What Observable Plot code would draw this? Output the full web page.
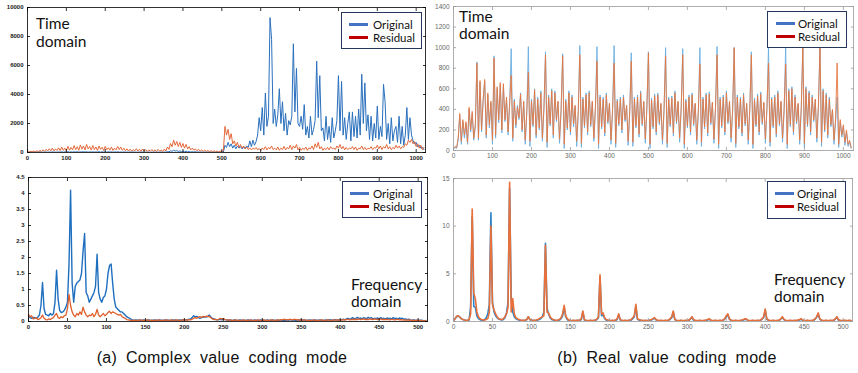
<!DOCTYPE html>
<html><head><meta charset="utf-8">
<script src="https://cdn.jsdelivr.net/npm/d3@7"></script>
<script src="https://cdn.jsdelivr.net/npm/@observablehq/plot@0.6"></script>
<style>
body{margin:0;background:#fff;}
#wrap{position:relative;width:858px;height:373px;overflow:hidden;background:#fff;}
.panel{position:absolute;}
.panel svg{overflow:visible;background:transparent;}
.ann{position:absolute;font-family:Lato,"Open Sans",sans-serif;font-size:15.5px;line-height:17px;color:#111;white-space:nowrap;}
.leg{position:absolute;border:1.2px solid #25385c;background:#fff;box-sizing:border-box;}
.leg .sw{position:absolute;height:3px;}
.leg .lt{position:absolute;font-family:Lato,"Open Sans",sans-serif;font-size:11.5px;line-height:12px;color:#111;white-space:nowrap;}
.cap{position:absolute;top:349px;font-family:"Liberation Sans",Arial,sans-serif;font-size:16px;line-height:18px;color:#111;letter-spacing:0.3px;word-spacing:4px;white-space:nowrap;transform:translateX(-50%);}
</style>
</head><body>
<div id="wrap"></div>
<script>
// ---------------- DATA ----------------
// (a) complex value coding, time domain: one value every 4 samples (0..1020)
const complexTimeOriginal = [
 20,10,30,15,25,10,30,20,40,15,
 30,20,40,15,35,20,45,25,30,20,
 40,25,50,20,45,30,55,25,40,30,
 50,30,60,25,45,35,55,30,50,25,
 45,30,50,25,40,30,55,25,45,30,
 40,25,50,30,45,20,40,30,50,25,
 35,20,40,25,30,20,35,25,40,20,
 30,15,35,20,30,15,25,20,30,15,
 25,20,30,15,25,20,30,15,35,20,
 60,40,120,80,150,100,130,70,110,60,
 100,50,90,40,70,30,60,30,50,25,
 40,20,35,20,30,15,30,15,25,15,
 20,10,20,10,15,20,30,500,350,700,
 400,600,300,500,250,450,300,400,250,350,
 300,450,350,800,400,850,500,750,1200,2400,
 1500,3100,1200,4100,1800,2500,9300,7800,2000,3000,
 1800,2600,4400,2000,3500,1500,2700,1200,2200,1900,
 2500,7500,2800,5800,2000,1800,2500,1600,3300,1200,
 1800,1000,2500,1200,1600,2200,6300,2400,5300,1500,
 1700,800,2500,900,1800,700,2400,1000,1500,2200,
 5300,1500,4900,1200,2400,900,2000,2800,800,2800,
 1100,2500,1000,3000,1200,5400,2000,4800,1500,2600,
 900,2500,800,2000,1000,3200,900,1800,1100,4700,
 3500,900,2000,600,2400,800,1500,1800,700,2500,
 600,1800,500,1200,3100,900,2400,1200,800,600,
 700,400,500,300,350,200
];
const complexTimeResidual = [
 60,40,80,50,90,60,110,70,140,80,
 180,90,220,100,260,120,300,110,250,140,
 320,130,380,150,300,120,420,160,350,180,
 480,200,400,150,520,230,450,180,560,250,
 420,170,480,200,380,150,450,220,360,140,
 420,190,330,160,380,140,300,180,420,200,
 380,150,300,120,250,100,230,90,200,110,
 260,100,220,80,240,90,200,70,180,90,
 210,80,180,70,220,90,160,80,240,100,
 380,220,620,400,850,500,760,420,700,350,
 620,300,560,250,400,180,300,150,250,120,
 220,100,180,80,160,70,150,60,130,50,
 120,50,100,40,90,60,130,1800,1200,1600,
 900,1300,600,800,450,700,350,550,300,450,
 250,380,200,320,180,300,220,350,180,280,
 150,320,200,400,180,350,250,450,200,300,
 180,380,150,300,200,420,180,350,250,500,
 200,450,300,550,180,350,150,300,200,380,
 150,320,250,450,200,600,350,700,250,400,
 150,300,200,350,180,400,250,300,200,450,
 300,550,250,420,180,350,200,300,250,400,
 200,380,150,300,250,450,200,350,180,300,
 250,400,200,350,300,500,250,450,200,400,
 300,550,250,400,200,350,250,500,300,450,
 250,400,350,600,500,850,700,900,600,750,
 400,600,300,500,200,350
];
// (a) complex value coding, frequency domain: one value every 2 bins (0..510)
const complexFreqOriginal = [
 0.15,0.12,0.1,0.13,0.12,0.1,0.14,0.2,0.5,1.22,
 0.4,0.22,0.2,0.18,0.25,0.2,0.24,0.6,1.6,0.7,
 0.35,0.28,0.3,0.35,0.45,0.6,1.8,4.1,1.2,0.6,
 1.1,1.2,1.25,1.3,1.5,2.2,2.75,0.9,0.8,0.6,
 0.7,0.8,0.9,1.1,2.1,0.9,0.7,0.6,0.75,0.8,
 1.0,1.5,1.75,1.8,1.2,0.7,0.45,0.4,0.35,0.3,
 0.3,0.25,0.2,0.15,0.12,0.1,0.06,0.05,0.04,0.05,
 0.04,0.05,0.03,0.04,0.05,0.03,0.04,0.05,0.04,0.03,
 0.04,0.05,0.04,0.03,0.05,0.04,0.03,0.04,0.05,0.04,
 0.04,0.03,0.05,0.04,0.05,0.03,0.04,0.05,0.04,0.05,
 0.05,0.06,0.05,0.07,0.08,0.12,0.18,0.14,0.16,0.12,
 0.1,0.12,0.13,0.15,0.14,0.16,0.2,0.14,0.1,0.08,
 0.06,0.05,0.06,0.07,0.05,0.08,0.06,0.05,0.04,0.05,
 0.04,0.03,0.05,0.04,0.03,0.04,0.05,0.03,0.04,0.03,
 0.04,0.05,0.03,0.04,0.03,0.05,0.04,0.03,0.04,0.05,
 0.03,0.04,0.03,0.05,0.04,0.03,0.04,0.05,0.03,0.04,
 0.04,0.03,0.05,0.04,0.03,0.04,0.05,0.04,0.06,0.04,
 0.05,0.04,0.03,0.05,0.04,0.06,0.04,0.05,0.03,0.04,
 0.04,0.05,0.03,0.04,0.05,0.03,0.04,0.05,0.04,0.03,
 0.04,0.05,0.04,0.06,0.05,0.04,0.05,0.06,0.04,0.05,
 0.05,0.06,0.07,0.05,0.08,0.1,0.07,0.09,0.12,0.08,
 0.1,0.13,0.09,0.11,0.08,0.12,0.1,0.09,0.13,0.1,
 0.12,0.08,0.1,0.09,0.11,0.08,0.12,0.09,0.1,0.08,
 0.11,0.09,0.1,0.08,0.12,0.09,0.1,0.08,0.11,0.09,
 0.1,0.07,0.08,0.06,0.07,0.05,0.04,0.05,0.04,0.03,
 0.04,0.03,0.04,0.03,0.02,0.03
];
const complexFreqResidual = [
 0.22,0.15,0.18,0.08,0.1,0.12,0.06,0.08,0.12,0.2,
 0.1,0.06,0.05,0.08,0.06,0.1,0.12,0.2,0.25,0.12,
 0.1,0.15,0.12,0.18,0.2,0.4,0.85,0.5,0.3,0.2,
 0.15,0.25,0.2,0.3,0.22,0.45,0.3,0.2,0.15,0.2,
 0.18,0.25,0.15,0.22,0.38,0.2,0.15,0.2,0.25,0.18,
 0.22,0.28,0.32,0.25,0.3,0.28,0.25,0.22,0.2,0.22,
 0.15,0.12,0.1,0.06,0.05,0.04,0.03,0.04,0.03,0.04,
 0.03,0.04,0.05,0.03,0.04,0.03,0.05,0.04,0.03,0.04,
 0.03,0.04,0.03,0.05,0.04,0.03,0.04,0.03,0.05,0.04,
 0.03,0.04,0.05,0.03,0.04,0.05,0.04,0.03,0.04,0.05,
 0.04,0.05,0.04,0.06,0.05,0.07,0.1,0.12,0.1,0.14,
 0.15,0.13,0.16,0.14,0.17,0.15,0.16,0.12,0.08,0.06,
 0.07,0.05,0.06,0.1,0.08,0.09,0.06,0.05,0.04,0.05,
 0.04,0.03,0.04,0.05,0.03,0.04,0.03,0.04,0.05,0.03,
 0.04,0.03,0.05,0.04,0.03,0.04,0.03,0.05,0.04,0.03,
 0.04,0.05,0.03,0.04,0.03,0.04,0.05,0.04,0.03,0.04,
 0.05,0.04,0.06,0.05,0.07,0.06,0.05,0.06,0.07,0.05,
 0.06,0.07,0.05,0.06,0.04,0.05,0.04,0.05,0.04,0.03,
 0.04,0.03,0.04,0.05,0.03,0.04,0.03,0.04,0.05,0.04,
 0.03,0.04,0.05,0.04,0.03,0.04,0.05,0.04,0.05,0.04,
 0.05,0.04,0.06,0.05,0.06,0.07,0.05,0.06,0.07,0.06,
 0.07,0.06,0.08,0.06,0.07,0.08,0.06,0.07,0.06,0.08,
 0.07,0.06,0.08,0.07,0.06,0.07,0.08,0.06,0.07,0.06,
 0.07,0.06,0.05,0.07,0.06,0.05,0.06,0.07,0.05,0.06,
 0.05,0.04,0.05,0.04,0.05,0.04,0.03,0.04,0.03,0.04,
 0.03,0.04,0.03,0.02,0.03,0.02
];
// (b) real value coding, time domain: one value every 4 samples (0..1020)
const realTimeOriginal = [
 10,30,20,100,340,60,280,120,260,60,400,180,360,100,230,
 860,100,660,180,480,670,120,540,220,460,60,
 920,120,600,270,640,170,630,280,500,150,440,
 990,90,500,220,440,300,560,180,470,60,360,
 1010,40,500,230,600,120,520,200,580,90,400,
 960,30,540,240,600,120,580,280,470,70,380,
 940,20,500,200,580,150,540,230,430,40,360,
 1020,30,520,220,560,150,580,230,470,90,400,
 1010,20,540,210,520,140,560,260,450,60,380,
 1020,30,500,240,520,170,540,280,430,50,360,
 950,40,520,220,540,130,580,240,470,70,400,
 960,20,510,210,550,150,560,250,450,60,380,
 1000,30,520,230,530,140,580,260,470,80,400,
 990,20,500,220,540,150,560,240,450,60,370,
 1000,40,520,210,560,140,570,250,460,70,400,
 1010,20,520,220,540,150,580,260,470,80,380,
 1000,30,540,210,520,140,560,240,450,60,390,
 960,20,510,230,550,150,570,250,460,70,400,
 1010,40,520,220,540,130,580,240,470,80,380,
 1010,20,600,230,620,150,540,260,450,60,400,
 1000,30,620,230,580,150,540,280,490,80,420,
 1000,40,600,180,560,120,520,230,390,60,280,
 520,30,280,130,230,50,180,40,80,20
];
const realTimeResidual = [
 20,40,30,120,360,90,300,150,280,80,420,200,380,120,250,
 850,120,680,200,500,690,150,560,250,480,100,
 900,150,620,300,660,200,650,300,520,180,460,
 730,120,480,250,420,320,550,200,480,100,380,
 760,90,480,250,590,150,500,220,560,120,420,
 930,80,520,260,580,150,560,300,480,110,400,
 920,60,480,220,560,180,520,260,440,90,380,
 930,70,500,240,540,180,560,250,480,120,420,
 870,60,520,230,500,170,540,280,460,100,400,
 850,70,480,260,500,200,520,300,440,90,380,
 870,80,500,240,520,160,560,260,480,110,420,
 950,60,490,230,530,180,540,270,460,100,400,
 920,70,500,250,510,170,560,280,480,120,420,
 930,60,480,240,520,180,540,260,460,100,390,
 840,80,500,230,540,170,550,270,470,110,420,
 930,60,500,240,520,180,560,280,480,120,400,
 1000,70,520,230,500,170,540,260,460,100,410,
 930,60,490,250,530,180,550,270,470,110,420,
 850,80,500,240,520,160,560,260,480,120,400,
 840,60,580,250,600,180,520,280,460,100,420,
 1000,70,600,250,560,180,520,300,500,120,440,
 1000,80,580,200,540,150,500,250,400,100,300,
 850,60,300,150,250,80,200,60,100,30
];
// (b) real value coding, frequency domain: one value every 2 bins (0..510)
const realFreqOriginal = [
 0.1,0.3,0.5,0.6,0.45,0.3,0.2,0.15,0.1,0.1,
 0.15,1.5,11.0,1.6,1.5,0.6,0.3,0.2,0.12,0.1,
 0.2,0.4,0.8,1.8,11.4,2.0,1.0,0.6,0.4,0.25,
 0.2,0.15,0.2,0.4,0.9,2.0,14.0,2.5,1.0,0.5,
 0.3,0.2,0.15,0.12,0.1,0.1,0.12,0.2,0.5,0.2,
 0.12,0.1,0.1,0.12,0.15,0.2,0.3,0.5,1.0,8.2,
 1.4,0.8,0.4,0.2,0.15,0.12,0.1,0.12,0.15,0.3,
 0.6,1.5,0.5,0.2,0.1,0.1,0.08,0.1,0.08,0.1,
 0.1,0.12,0.2,1.0,0.15,0.1,0.08,0.08,0.1,0.08,
 0.1,0.12,0.2,0.4,4.7,0.6,0.7,0.3,0.15,0.1,
 0.1,0.08,0.1,0.08,0.12,0.2,0.7,0.15,0.1,0.08,
 0.1,0.08,0.1,0.12,0.15,0.3,0.5,1.6,0.25,0.15,
 0.12,0.1,0.08,0.1,0.08,0.1,0.12,0.15,0.25,0.35,
 0.15,0.1,0.08,0.1,0.08,0.08,0.1,0.08,0.12,0.25,
 0.4,1.0,0.2,0.1,0.08,0.08,0.1,0.08,0.08,0.1,
 0.08,0.12,0.25,0.45,0.15,0.1,0.08,0.08,0.1,0.08,
 0.08,0.1,0.12,0.15,0.25,0.12,0.08,0.08,0.1,0.08,
 0.08,0.1,0.08,0.12,0.25,0.5,0.7,0.25,0.12,0.08,
 0.08,0.1,0.08,0.08,0.1,0.12,0.15,0.25,0.2,0.1,
 0.08,0.08,0.1,0.08,0.08,0.1,0.08,0.12,0.25,0.45,
 1.2,0.25,0.12,0.08,0.08,0.1,0.08,0.08,0.1,0.12,
 0.25,0.45,0.2,0.1,0.08,0.08,0.1,0.08,0.08,0.1,
 0.08,0.12,0.15,0.25,0.12,0.08,0.08,0.1,0.08,0.08,
 0.1,0.12,0.25,0.45,0.8,0.25,0.12,0.08,0.08,0.1,
 0.08,0.08,0.1,0.08,0.12,0.25,0.45,0.15,0.1,0.08,
 0.08,0.1,0.08,0.08,0.1,0.08
];
const realFreqResidual = [
 0.1,0.3,0.55,0.6,0.45,0.3,0.2,0.15,0.12,0.12,
 0.2,0.8,11.8,3.0,2.4,1.0,0.5,0.3,0.2,0.15,
 0.15,0.2,0.3,1.0,10.0,1.8,1.2,0.8,0.5,0.3,
 0.25,0.2,0.3,0.5,0.8,1.5,14.6,1.0,2.4,0.8,
 0.4,0.3,0.2,0.15,0.12,0.12,0.15,0.2,0.5,0.2,
 0.15,0.12,0.12,0.15,0.2,0.3,0.4,0.5,0.6,8.0,
 1.0,0.9,0.5,0.3,0.2,0.15,0.12,0.15,0.2,0.4,
 0.8,1.7,0.6,0.3,0.15,0.12,0.1,0.12,0.1,0.12,
 0.12,0.15,0.3,1.1,0.2,0.12,0.1,0.1,0.12,0.1,
 0.12,0.15,0.25,0.5,4.9,0.8,0.9,0.4,0.2,0.15,
 0.12,0.1,0.12,0.1,0.15,0.3,0.8,0.2,0.12,0.1,
 0.12,0.1,0.12,0.15,0.2,0.4,0.6,1.8,0.3,0.2,
 0.15,0.12,0.1,0.12,0.1,0.12,0.15,0.2,0.3,0.4,
 0.2,0.12,0.1,0.12,0.1,0.1,0.12,0.1,0.15,0.3,
 0.5,1.1,0.25,0.12,0.1,0.1,0.12,0.1,0.1,0.12,
 0.1,0.15,0.3,0.5,0.2,0.12,0.1,0.1,0.12,0.1,
 0.1,0.12,0.15,0.2,0.3,0.15,0.1,0.1,0.12,0.1,
 0.1,0.12,0.1,0.15,0.3,0.6,0.8,0.3,0.15,0.1,
 0.1,0.12,0.1,0.1,0.12,0.15,0.2,0.3,0.25,0.12,
 0.1,0.1,0.12,0.1,0.1,0.12,0.1,0.15,0.3,0.5,
 1.3,0.3,0.15,0.1,0.1,0.12,0.1,0.1,0.12,0.15,
 0.3,0.5,0.25,0.12,0.1,0.1,0.12,0.1,0.1,0.12,
 0.1,0.15,0.2,0.3,0.15,0.1,0.1,0.12,0.1,0.1,
 0.12,0.15,0.3,0.5,0.9,0.3,0.15,0.1,0.1,0.12,
 0.1,0.1,0.12,0.1,0.15,0.3,0.5,0.2,0.12,0.1,
 0.1,0.12,0.1,0.1,0.12,0.1
];
const timeStep = 4, freqStep = 2;
const timeXTicks = [0,100,200,300,400,500,600,700,800,900,1000];
const freqXTicks = [0,50,100,150,200,250,300,350,400,450,500];
const complexTimeYTicks = [0,2000,4000,6000,8000,10000];
const complexFreqYTicks = [0,0.5,1,1.5,2,2.5,3,3.5,4,4.5];
const realTimeYTicks = [0,200,400,600,800,1000,1200,1400];
const realFreqYTicks = [0,5,10,15];
const seriesNames = ["Original","Residual"];
const captions = ["(a) Complex value coding mode","(b) Real value coding mode"];
const timeLabel = ["Time","domain"];
const freqLabel = ["Frequency","domain"];

// ---------------- DRAWING ----------------
const wrap = document.getElementById("wrap");
const toRows = (vals, step) => vals.map((v, i) => ({x: i * step, y: v}));

function panel(c) {
  const blank = () => "";
  const tk = {stroke: c.axis, strokeWidth: 0.8, tickSize: 3, tickFormat: blank, label: null};
  const lab = {tickSize: 0, fontSize: c.fs, fill: c.lab, fontWeight: c.fw, tickFormat: d => String(d), label: null};
  const svg = Plot.plot({
    width: c.w, height: c.h,
    marginLeft: c.ml, marginRight: c.mr, marginTop: c.mt, marginBottom: c.mb,
    x: {domain: c.xd, label: null}, y: {domain: c.yd, label: null},
    style: {fontFamily: "'Liberation Sans', Arial, sans-serif", background: "transparent"},
    marks: [
      Plot.line(toRows(c.orig, c.step), {x: "x", y: "y", stroke: c.oc, strokeWidth: c.ow, clip: true}),
      Plot.line(toRows(c.res, c.step), {x: "x", y: "y", stroke: c.rc, strokeWidth: c.rw, clip: true}),
      Plot.frame({stroke: c.axis, strokeWidth: 0.8}),
      Plot.axisX(c.xt, {...lab, anchor: "bottom", tickPadding: 3}),
      Plot.axisY(c.yt, {...lab, anchor: "left", tickPadding: 4}),
      Plot.axisX(c.xt, {...tk, anchor: "bottom", dy: -3}),
      Plot.axisX(c.xt, {...tk, anchor: "top", dy: 3}),
      Plot.axisY(c.yt, {...tk, anchor: "left", dx: 3}),
      Plot.axisY(c.yt, {...tk, anchor: "right", dx: -3})
    ]
  });
  const d = document.createElement("div");
  d.className = "panel";
  d.style.left = c.left + "px"; d.style.top = c.top + "px";
  d.appendChild(svg);
  wrap.appendChild(d);
}

function legend(l, t, w, h, sx, tx) {
  const box = document.createElement("div");
  box.className = "leg";
  Object.assign(box.style, {left: l + "px", top: t + "px", width: w + "px", height: h + "px"});
  const cols = ["#4472c4", "#c00000"];
  seriesNames.forEach((n, i) => {
    const s = document.createElement("div");
    s.className = "sw";
    Object.assign(s.style, {left: sx + "px", top: (10 + i * 13) + "px", width: "19px", background: cols[i]});
    const tt = document.createElement("div");
    tt.className = "lt";
    Object.assign(tt.style, {left: tx + "px", top: (5.5 + i * 13) + "px"});
    tt.textContent = n;
    box.appendChild(s); box.appendChild(tt);
  });
  wrap.appendChild(box);
}

function annot(lines, l, t, lh) {
  const a = document.createElement("div");
  a.className = "ann";
  Object.assign(a.style, {left: l + "px", top: t + "px", lineHeight: lh + "px"});
  a.innerHTML = lines.join("<br>");
  wrap.appendChild(a);
}

const darkAxis = {axis: "#000", lab: "#1a1a1a", fw: "bold", fs: 6};
const greyAxis = {axis: "#9a9a9a", lab: "#666", fw: "normal", fs: 6.5};

panel({...darkAxis, left: 0, top: 0, w: 430, h: 165, ml: 27, mr: 5, mt: 7, mb: 13,
  xd: [0, 1024], yd: [0, 10000], xt: timeXTicks, yt: complexTimeYTicks, step: timeStep,
  orig: complexTimeOriginal, res: complexTimeResidual,
  oc: "#2a70bd", ow: 1, rc: "#e05a28", rw: 0.9});
panel({...darkAxis, left: 0, top: 165, w: 430, h: 175, ml: 28, mr: 3, mt: 12, mb: 19,
  xd: [0, 512], yd: [0, 4.5], xt: freqXTicks, yt: complexFreqYTicks, step: freqStep,
  orig: complexFreqOriginal, res: complexFreqResidual,
  oc: "#1f6fbf", ow: 1.4, rc: "#e0602c", rw: 1.3});
panel({...greyAxis, left: 430, top: 0, w: 428, h: 165, ml: 23, mr: 5, mt: 6, mb: 15,
  xd: [0, 1026], yd: [0, 1400], xt: timeXTicks, yt: realTimeYTicks, step: timeStep,
  orig: realTimeOriginal, res: realTimeResidual,
  oc: "#6aaee0", ow: 0.9, rc: "#e8773f", rw: 0.9});
panel({...greyAxis, left: 430, top: 165, w: 428, h: 175, ml: 23, mr: 6, mt: 13, mb: 19,
  xd: [0, 512], yd: [0, 15], xt: freqXTicks, yt: realFreqYTicks, step: freqStep,
  orig: realFreqOriginal, res: realFreqResidual,
  oc: "#2c83c8", ow: 1.6, rc: "#e8703a", rw: 1.6});

legend(341, 12, 81, 37, 7, 31);
legend(767, 11, 80, 37, 8, 30);
legend(342, 181, 80, 37, 7, 30);
legend(767, 181, 79, 38, 7, 29);

annot(timeLabel, 36, 14, 18);
annot(timeLabel, 459, 8, 17);
annot(freqLabel, 351, 276, 16.5);
annot(freqLabel, 774, 271, 16.5);

[[captions[0], 222], [captions[1], 667]].forEach(([t, cx]) => {
  const c = document.createElement("div");
  c.className = "cap";
  c.style.left = cx + "px";
  c.textContent = t;
  wrap.appendChild(c);
});
</script>
</body></html>
